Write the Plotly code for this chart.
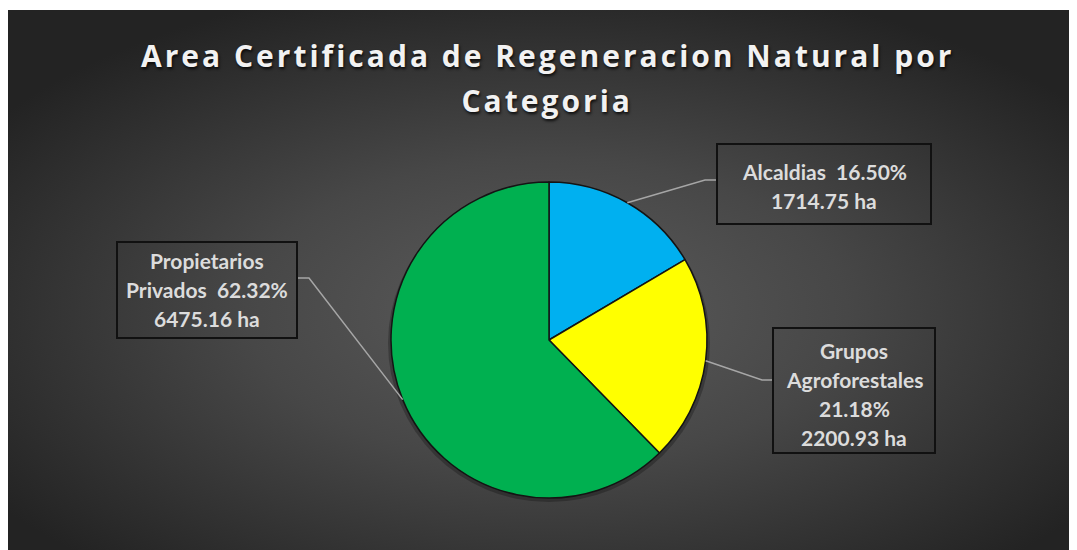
import math
import base64
import plotly.graph_objects as go

# ---------------- data ----------------
categories = ["Alcaldias", "Grupos Agroforestales", "Propietarios Privados"]
hectares = [1714.75, 2200.93, 6475.16]
colors = ["#00B0F0", "#FFFF00", "#00B050"]
label_lines = [
    ["Alcaldias  16.50%", "1714.75 ha"],
    ["Grupos", "Agroforestales", "21.18%", "2200.93 ha"],
    ["Propietarios", "Privados  62.32%", "6475.16 ha"],
]
title_lines = ["Area Certificada de Regeneracion Natural por", "Categoria"]

# ---------------- layout geometry (screen pixels) ----------------
W, H = 1077, 550
OFF = 8  # page body margin
CX, CY, R = 549, 340, 158


def px(x):
    return (x - OFF) / W


def py(y):
    return 1 - (y - OFF) / H


# label boxes: (x0, y0, x1, y1), first line centre y, line step
boxes = [
    (717, 144, 931, 224, 172, 28.5),
    (773, 328, 935, 453, 350, 29),
    (117, 242, 297, 338, 260, 29),
]
# leader elbows (elbow point, box attach point)
elbows = [
    ((705, 180), (717, 180)),
    ((762, 380), (773, 380)),
    ((309, 278), (297, 278)),
]

# ---------------- background gradient ----------------
svg = """<svg xmlns='http://www.w3.org/2000/svg' width='1077' height='548'>
<defs><radialGradient id='g' cx='50%' cy='55%' r='62%'>
<stop offset='0' stop-color='#5c5c5c'/><stop offset='0.45' stop-color='#474747'/>
<stop offset='1' stop-color='#232323'/></radialGradient></defs>
<rect width='1077' height='548' fill='url(#g)'/></svg>"""
bg_uri = "data:image/svg+xml;base64," + base64.b64encode(svg.encode()).decode()

fig = go.Figure()
fig.add_trace(go.Pie(
    labels=categories,
    values=hectares,
    sort=False,
    direction="clockwise",
    rotation=0,
    marker=dict(colors=colors, line=dict(color="#141414", width=1.5)),
    textinfo="none",
    hoverinfo="label+value+percent",
    showlegend=False,
    domain=dict(x=[px(CX - R), px(CX + R)], y=[py(CY + R), py(CY - R)]),
))

shapes = []
annotations = []

# pie shadow
shapes.append(dict(type="circle", xref="paper", yref="paper",
                   x0=px(CX - R - 3), x1=px(CX + R + 3),
                   y0=py(CY + R + 4), y1=py(CY - R + 2),
                   fillcolor="rgba(0,0,0,0.25)", line=dict(width=0), layer="below"))

total = sum(hectares)
cum = 0.0
for i, v in enumerate(hectares):
    frac = v / total
    mid = (cum + frac / 2) * 2 * math.pi
    cum += frac
    sx = CX + R * math.sin(mid)
    sy = CY - R * math.cos(mid)
    (ex, ey), (bx, by) = elbows[i]
    shapes.append(dict(type="path", xref="paper", yref="paper",
                       path=f"M {px(sx)},{py(sy)} L {px(ex)},{py(ey)} L {px(bx)},{py(by)}",
                       line=dict(color="#a6a6a6", width=1.5)))
    x0, y0, x1, y1, ly, step = boxes[i]
    shapes.append(dict(type="rect", xref="paper", yref="paper",
                       x0=px(x0), x1=px(x1), y0=py(y1), y1=py(y0),
                       line=dict(color="#111111", width=2), fillcolor="rgba(0,0,0,0)"))
    for j, line in enumerate(label_lines[i]):
        annotations.append(dict(
            text=f"<b>{line}</b>", xref="paper", yref="paper",
            x=px((x0 + x1) / 2), y=py(ly + j * step),
            xanchor="center", yanchor="middle", showarrow=False,
            font=dict(family="Lato", size=21, color="#dcdcdc"),
        ))

# title (one annotation per line for Excel-like line spacing)
for j, (t, ty) in enumerate(zip(title_lines, [55, 101])):
    annotations.append(dict(
        text=f"<b>{t}</b>", xref="paper", yref="paper",
        x=px(547), y=py(ty), xanchor="center", yanchor="middle", showarrow=False,
        font=dict(family="Open Sans", size=30, color="#f2f2f2",
                  shadow="1px 2px 3px rgba(0,0,0,0.8)"),
    ))

fig.update_layout(
    width=W, height=H,
    margin=dict(l=0, r=0, t=0, b=0),
    paper_bgcolor="white",
    plot_bgcolor="rgba(0,0,0,0)",
    shapes=shapes,
    annotations=annotations,
    images=[dict(source=bg_uri, xref="paper", yref="paper",
                 x=0, y=py(10), sizex=1, sizey=py(10),
                 xanchor="left", yanchor="top", sizing="stretch", layer="below")],
)

post_js = """
var gd = document.getElementById('{plot_id}');
function spaceTitle() {
  gd.querySelectorAll('.annotation-text').forEach(function (t) {
    var s = t.textContent;
    if (s.indexOf('Area Certificada') === 0 || s === 'Categoria') {
      t.style.letterSpacing = '3px';
    }
  });
}
spaceTitle();
gd.on('plotly_afterplot', spaceTitle);
"""

fig.write_html("out.html", post_script=post_js)
